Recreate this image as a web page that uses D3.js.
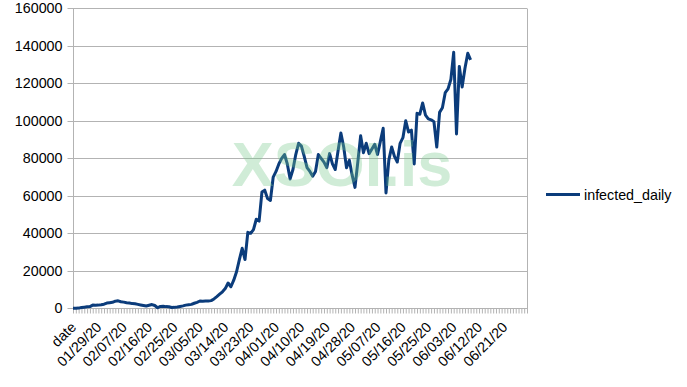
<!DOCTYPE html>
<html><head><meta charset="utf-8">
<script src="https://cdn.jsdelivr.net/npm/d3@7"></script>
<style>
html,body{margin:0;padding:0;background:#fff;}
svg{display:block;font-family:"Liberation Sans",Arial,sans-serif;}
</style></head>
<body>
<svg id="chart" width="687" height="387"></svg>
<script>
// ---- data ----
const seriesName = "infected_daily";
const firstCategory = "date";
const startDate = new Date(2020, 0, 21);
const endDate = new Date(2020, 5, 30); // exclusive
const fmt = d3.timeFormat("%m/%d/%y");
const categories = [firstCategory].concat(d3.timeDay.range(startDate, endDate).map(fmt));
const infectedDaily = [
  0, 0, 100, 400, 600, 800, 900, 1700, 1600, 1700,
  1900, 2200, 2800, 3000, 3200, 3800, 4000, 3500, 3300, 3000,
  2800, 2500, 2400, 2100, 1800, 1500, 1200, 1600, 2000, 1500,
  300, 1000, 1100, 900, 800, 400, 500, 700, 1000, 1300,
  1700, 1900, 2100, 2700, 3200, 3900, 3800, 3900, 3900, 4100,
  5000, 6200, 7500, 8800, 10500, 13500, 11500, 15000, 19500, 26000,
  32000, 26000, 40500, 40000, 42000, 47500, 46500, 62000, 63000, 58500,
  57500, 70000, 73000, 77000, 80000, 82000, 77000, 69000, 74000, 82000,
  88000, 86500, 81000, 75000, 73000, 70500, 73000, 82000, 80000, 78000,
  75000, 82500, 77000, 74000, 84000, 93500, 86000, 75000, 79000, 71000,
  64500, 78000, 92000, 83000, 88000, 82500, 85000, 87500, 82000, 89000,
  96000, 61500, 79000, 86000, 81000, 78000, 88000, 91000, 100000, 94000,
  95000, 77000, 104000, 103500, 109500, 103000, 101000, 100500, 99500, 86000,
  104500, 107000, 115000, 117000, 122000, 136500, 93000, 129000, 118000, 128000,
  136000, 132500
];
const yTicks = [0, 20000, 40000, 60000, 80000, 100000, 120000, 140000, 160000];
const labelEvery = 9;
const watermark = "XSOI.is";

// ---- layout ----
const svg = d3.select("#chart");
const L = 73, R = 527, T = 8.3, B = 308.3;
const x = d3.scalePoint().domain(categories).range([L, R]);
const y = d3.scaleLinear().domain([0, 160000]).range([B, T]);
const grid = "#b3b3b3";
const lineColor = "#0b3c7b";

svg.append("rect").attr("width", 687).attr("height", 387).attr("fill", "#fff");

// gridlines
svg.append("g").selectAll("line").data(yTicks).join("line")
  .attr("x1", L).attr("x2", R)
  .attr("y1", d => Math.round(y(d)) + 0.5).attr("y2", d => Math.round(y(d)) + 0.5)
  .attr("stroke", grid).attr("stroke-width", 1);

// right border
svg.append("line").attr("x1", R + 0.5).attr("x2", R + 0.5)
  .attr("y1", Math.round(T) + 0.5).attr("y2", Math.round(B) + 0.5)
  .attr("stroke", grid);

// y axis
const yAxis = d3.axisLeft(y).tickValues(yTicks).tickSize(6).tickPadding(5).tickFormat(d3.format("d"));
const gy = svg.append("g").attr("transform", `translate(${L + 0.5},0)`).call(yAxis);
gy.select(".domain").attr("stroke", grid).attr("d", `M-0,${Math.round(T)}V${Math.round(B) + 5}`);
gy.selectAll(".tick line").attr("stroke", grid);
gy.selectAll(".tick").attr("transform", d => `translate(0,${Math.round(y(d)) + 0.5})`);
gy.selectAll("text").attr("font-size", "14.3px").attr("fill", "#000")
  .attr("font-family", "'Liberation Sans', Arial, sans-serif");

// x axis
const xAxis = d3.axisBottom(x).tickSize(5).tickSizeOuter(0)
  .tickFormat((d, i) => (i % labelEvery === 0 ? d : ""));
const gx = svg.append("g").attr("transform", `translate(0,${Math.round(B) + 0.5})`).call(xAxis);
gx.select(".domain").attr("stroke", grid).attr("d", `M${L},0H${R + 1}`);
gx.selectAll(".tick line").attr("stroke", grid);
gx.selectAll(".tick text")
  .attr("font-size", "14.3px").attr("fill", "#000")
  .attr("font-family", "'Liberation Sans', Arial, sans-serif")
  .attr("text-anchor", "end").attr("x", 0).attr("y", 0).attr("dy", "0.35em")
  .attr("transform", "translate(0,16) rotate(-45)");

// line
const line = d3.line()
  .x((d, i) => x(categories[i]))
  .y(d => y(d));
svg.append("path").datum(infectedDaily)
  .attr("d", line)
  .attr("fill", "none").attr("stroke", lineColor).attr("stroke-width", 3)
  .attr("stroke-linejoin", "round").attr("stroke-linecap", "butt");

// watermark
svg.append("text").attr("x", 342).attr("y", 186)
  .attr("text-anchor", "middle")
  .attr("font-family", "'Liberation Sans', Arial, sans-serif")
  .attr("font-weight", "bold").attr("font-size", "63px")
  .attr("fill", "rgb(120,200,140)").attr("fill-opacity", 0.35)
  .text(watermark);

// legend
svg.append("line").attr("x1", 546).attr("x2", 580).attr("y1", 194.5).attr("y2", 194.5)
  .attr("stroke", lineColor).attr("stroke-width", 3);
svg.append("text").attr("x", 584).attr("y", 199.5)
  .attr("font-size", "14.3px").attr("fill", "#000")
  .text(seriesName);
</script>
</body></html>
